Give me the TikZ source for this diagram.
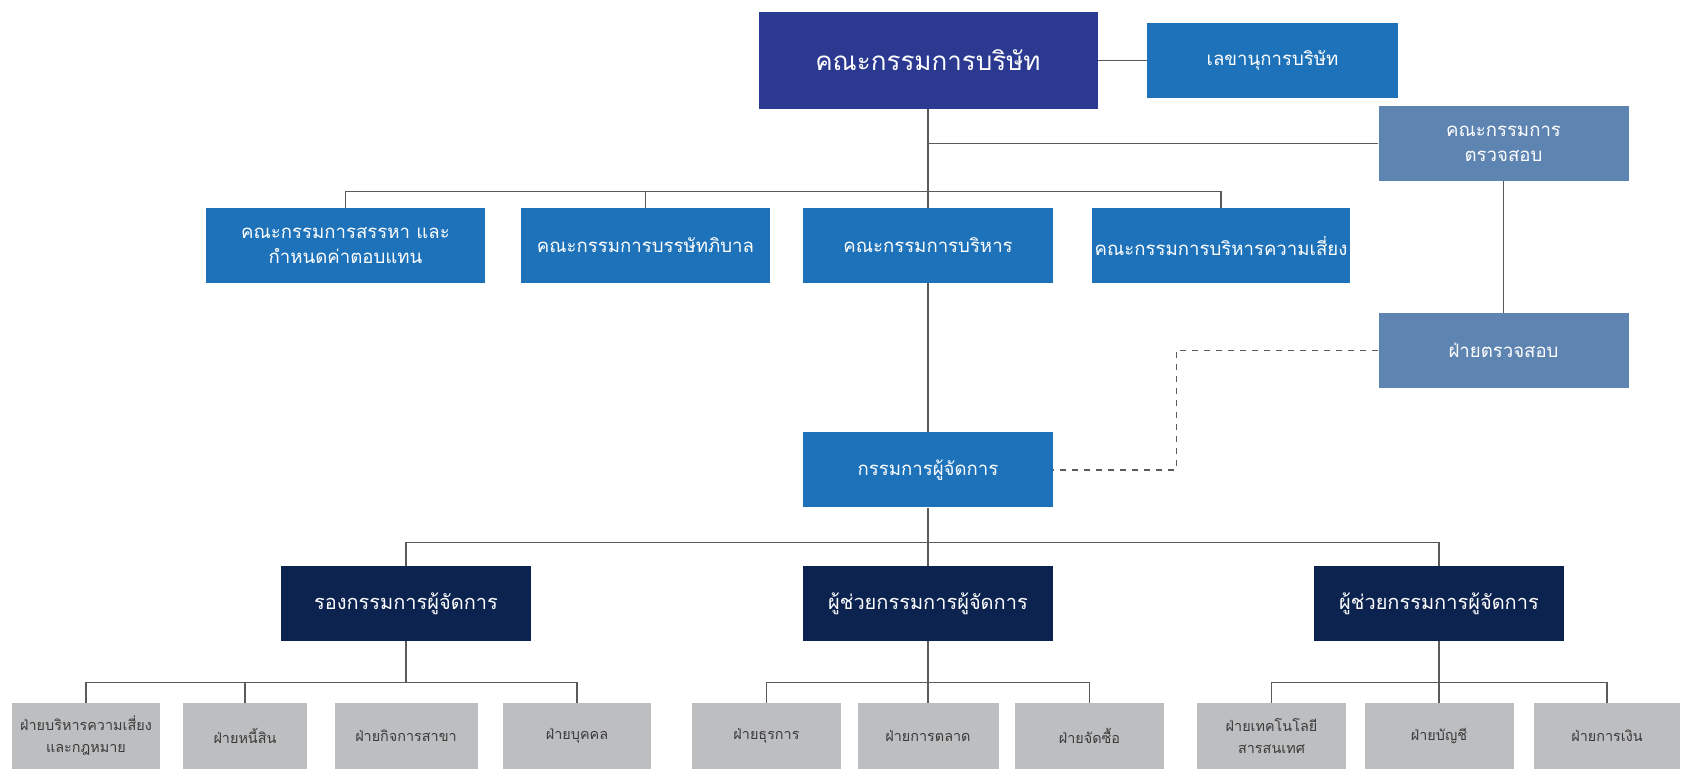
\documentclass[tikz,border=0pt]{standalone}
\usepackage{fontspec}
\usepackage{xcolor}
\newfontfamily\thaifont[Script=Thai]{Loma}
\definecolor{boardBlue}{HTML}{2B3990}
\definecolor{unitBlue}{HTML}{1D72BA}
\definecolor{auditBlue}{HTML}{5E84B2}
\definecolor{mgmtNavy}{HTML}{0C2350}
\definecolor{deptGray}{HTML}{BDBEC0}
\definecolor{deptText}{HTML}{3A3A3A}
\definecolor{wireGray}{HTML}{5A5A5A}

\begin{document}
\begin{tikzpicture}[x=0.5pt,y=-0.5pt,
  box/.style={inner sep=0pt, align=center, text=white, font=\thaifont\fontsize{9.3}{12.5}\selectfont},
  boardbox/.style={box, fill=boardBlue, minimum width=169.5pt, minimum height=48.5pt, font=\thaifont\fontsize{13}{16}\selectfont},
  unitbox/.style={box, fill=unitBlue, minimum height=37.5pt},
  auditbox/.style={box, fill=auditBlue, minimum width=125pt, minimum height=37.5pt},
  mgmtbox/.style={box, fill=mgmtNavy, minimum width=125pt, minimum height=37.5pt, font=\thaifont\fontsize{10}{13}\selectfont},
  deptbox/.style={box, fill=deptGray, text=deptText, minimum height=33pt, font=\thaifont\fontsize{7.2}{11}\selectfont},
  wire/.style={draw=wireGray, line width=0.6pt}]
\useasboundingbox (0,0) rectangle (1681,774);
\node[boardbox] (board) at (928,60.5) {คณะกรรมการบริษัท};
\node[unitbox, minimum width=125.5pt] (secretary) at (1272.5,60.5) {เลขานุการบริษัท};
\node[auditbox] (auditcom) at (1503.5,143.5) {คณะกรรมการ\\ตรวจสอบ};
\node[unitbox, minimum width=139.5pt] (nomcom) at (345.5,245.5) {คณะกรรมการสรรหา และ\\กำหนดค่าตอบแทน};
\node[unitbox, minimum width=124.5pt] (govcom) at (645.5,245.5) {คณะกรรมการบรรษัทภิบาล};
\node[unitbox, minimum width=125pt] (execcom) at (928,245.5) {คณะกรรมการบริหาร};
\node[unitbox, minimum width=129pt] (riskcom) at (1221,245.5) {คณะกรรมการบริหารความเสี่ยง};
\node[auditbox] (auditdept) at (1503.5,350.5) {ฝ่ายตรวจสอบ};
\node[unitbox, minimum width=125pt] (md) at (928,470) {กรรมการผู้จัดการ};
\node[mgmtbox] (dmd) at (406,603.5) {รองกรรมการผู้จัดการ};
\node[mgmtbox] (amdA) at (928,603.5) {ผู้ช่วยกรรมการผู้จัดการ};
\node[mgmtbox] (amdB) at (1439,603.5) {ผู้ช่วยกรรมการผู้จัดการ};
\node[deptbox, minimum width=74pt] (riskdept) at (86,736) {ฝ่ายบริหารความเสี่ยง\\และกฎหมาย};
\node[deptbox, minimum width=62pt] (debtdept) at (245,736) {ฝ่ายหนี้สิน};
\node[deptbox, minimum width=71.5pt] (branchdept) at (406,736) {ฝ่ายกิจการสาขา};
\node[deptbox, minimum width=74pt] (hrdept) at (577,736) {ฝ่ายบุคคล};
\node[deptbox, minimum width=74.5pt] (admindept) at (766.5,736) {ฝ่ายธุรการ};
\node[deptbox, minimum width=70.5pt] (mktdept) at (928,736) {ฝ่ายการตลาด};
\node[deptbox, minimum width=74.5pt] (buydept) at (1089.5,736) {ฝ่ายจัดซื้อ};
\node[deptbox, minimum width=74.5pt] (itdept) at (1271.5,736) {ฝ่ายเทคโนโลยี\\สารสนเทศ};
\node[deptbox, minimum width=74.5pt] (acctdept) at (1439,736) {ฝ่ายบัญชี};
\node[deptbox, minimum width=73pt] (findept) at (1607,736) {ฝ่ายการเงิน};

\draw[wire] (board.east) -- (secretary.west);
\draw[wire] (board.south) -- (execcom.north);
\draw[wire] (auditcom.west) -- (auditcom.west -| board.south);
\draw[wire] (nomcom.north) -- ++(0,-16) -| (riskcom.north);
\draw[wire] (govcom.north) -- ++(0,-16);
\draw[wire] (auditcom.south) -- (auditdept.north);
\draw[wire] (execcom.south) -- (md.north);
\draw[wire, dashed] (auditdept.west) -- ++(-202,0) |- (md.east);
\draw[wire] (md.south) -- (amdA.north);
\draw[wire] (dmd.north) -- ++(0,-23) -| (amdB.north);
\draw[wire] (dmd.south) -- ++(0,42);
\draw[wire] (riskdept.north) -- ++(0,-20) -| (hrdept.north);
\draw[wire] (debtdept.north) -- ++(0,-20);
\draw[wire] (amdA.south) -- (mktdept.north);
\draw[wire] (admindept.north) -- ++(0,-20) -| (buydept.north);
\draw[wire] (amdB.south) -- (acctdept.north);
\draw[wire] (itdept.north) -- ++(0,-20) -| (findept.north);
\end{tikzpicture}
\end{document}
